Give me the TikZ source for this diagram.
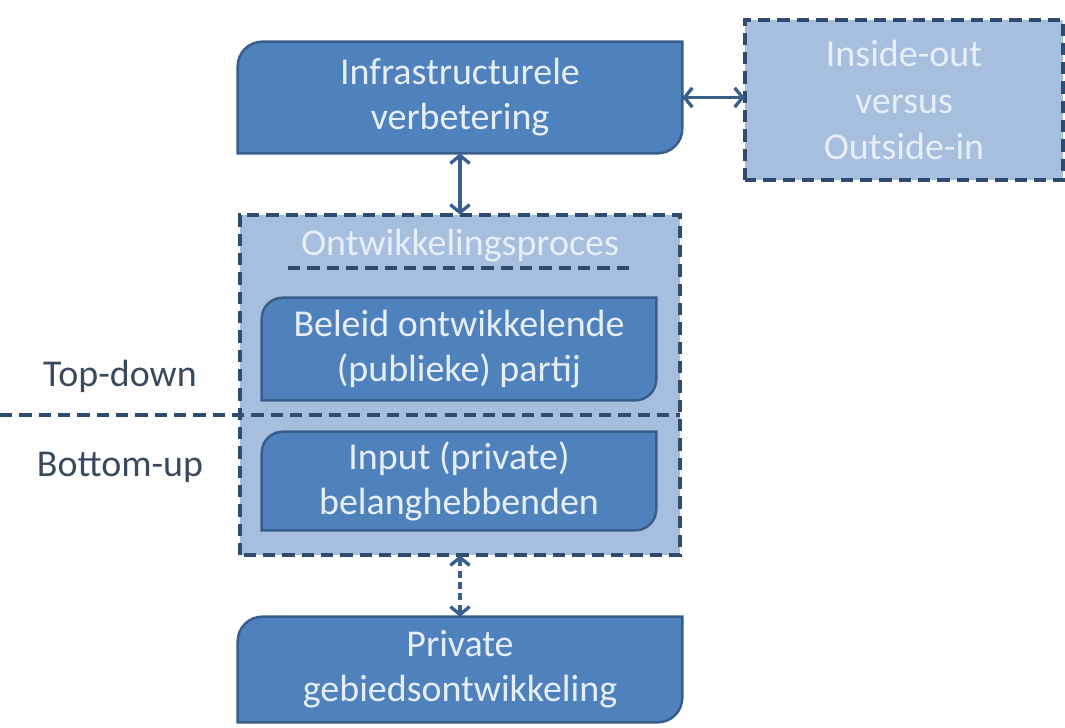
\documentclass[tikz,border=0pt]{standalone}
\usepackage{fontspec}
\setmainfont{Carlito}
\usetikzlibrary{arrows.meta}
\definecolor{boxblue}{HTML}{4F81BD}
\definecolor{boxedge}{HTML}{385D8A}
\definecolor{paleblue}{HTML}{A7BFDE}
\definecolor{dashedge}{HTML}{2F4B6E}
\definecolor{paletext}{HTML}{E6EEF8}
\definecolor{labeltext}{HTML}{3A4A5C}
\definecolor{arrowblue}{HTML}{37608F}
\pgfdeclarelayer{background}
\pgfsetlayers{background,main}

\begin{document}
\begin{tikzpicture}[x=0.02cm,y=-0.02cm]
\tikzstyle{every node}+=[inner sep=0pt,align=center,font=\fontsize{21.6}{25.6}\selectfont]
\tikzstyle{darkbox}=[fill=boxblue,draw=boxedge,line width=1.4pt]
\tikzstyle{palebox}=[fill=paleblue,draw=dashedge,line width=2.1pt,dash pattern=on 7pt off 4pt]
\tikzstyle{dashline}=[draw=dashedge,line width=2.1pt,dash pattern=on 7pt off 4pt]
\tikzstyle{link}=[draw=arrowblue,line width=1.9pt,{Straight Barb[length=4.5pt,width=11pt]}-{Straight Barb[length=4.5pt,width=11pt]}]
\useasboundingbox (0,0) rectangle (1065,727);
\node (infra) at (460,97.5) [minimum width=8.88cm,minimum height=2.22cm,text=paletext] {Infrastructurele\\verbetering};
\node (insideout) at (904,100) [minimum width=6.36cm,minimum height=3.2cm,text=paletext,font=\fontsize{21.6}{26.7}\selectfont] {Inside-out\\versus\\Outside-in};
\node (proces) at (460,385) [minimum width=8.8cm,minimum height=6.8cm] {};
\node (title) at (460,246) [text=paletext] {Ontwikkelingsproces};
\node (beleid) at (459,349) [minimum width=7.88cm,minimum height=2.04cm,text=paletext] {Beleid ontwikkelende\\(publieke) partij};
\node (input) at (459,481) [minimum width=7.88cm,minimum height=1.96cm,text=paletext] {Input (private)\\belanghebbenden};
\node (private) at (460,669.5) [minimum width=8.88cm,minimum height=2.1cm,text=paletext] {Private\\gebiedsontwikkeling};
\node (topdown) at (120,376) [text=labeltext] {Top-down};
\node (bottomup) at (120,467) [text=labeltext] {Bottom-up};
\coordinate (cut) at (0,415);
\coordinate (ulstart) at (288,268);
\coordinate (ulend) at (630,268);
\begin{pgfonlayer}{background}
\draw [palebox] (insideout.south west) rectangle (insideout.north east);
\draw [palebox] (proces.south west) rectangle (proces.north east);
\draw [darkbox] (infra.south west) [rounded corners=14pt]-- (infra.north west) [sharp corners]-- (infra.north east) [rounded corners=14pt]-- (infra.south east) [sharp corners]-- cycle;
\draw [darkbox] (beleid.south west) [rounded corners=12pt]-- (beleid.north west) [sharp corners]-- (beleid.north east) [rounded corners=12pt]-- (beleid.south east) [sharp corners]-- cycle;
\draw [darkbox] (input.south west) [rounded corners=12pt]-- (input.north west) [sharp corners]-- (input.north east) [rounded corners=12pt]-- (input.south east) [sharp corners]-- cycle;
\draw [darkbox] (private.south west) [rounded corners=14pt]-- (private.north west) [sharp corners]-- (private.north east) [rounded corners=14pt]-- (private.south east) [sharp corners]-- cycle;
\draw [dashline] (cut) -- (cut -| proces.east);
\draw [dashline] (ulstart) -- (ulend);
\end{pgfonlayer}
\draw [link] (infra.south) -- (proces.north);
\draw [link] (infra.east) -- (infra.east -| insideout.west);
\draw [link,dash pattern=on 4pt off 2.5pt] (proces.south) -- (private.north);
\end{tikzpicture}
\end{document}
